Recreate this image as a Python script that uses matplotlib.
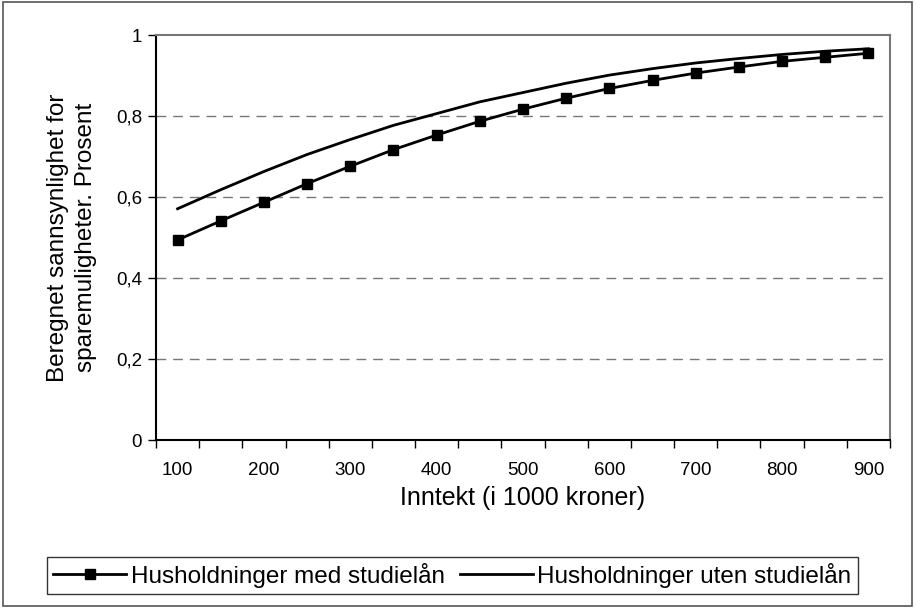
import matplotlib.pyplot as plt
from matplotlib.patches import Rectangle
from matplotlib.ticker import FixedLocator, FuncFormatter
import numpy as np

plt.rcParams['font.family'] = ['Liberation Sans', 'DejaVu Sans']

# Inntekt i 1000 kroner
income = [100, 150, 200, 250, 300, 350, 400, 450, 500,
          550, 600, 650, 700, 750, 800, 850, 900]
med_laan = [0.494, 0.541, 0.587, 0.633, 0.676, 0.717, 0.753, 0.787, 0.817,
            0.844, 0.868, 0.888, 0.906, 0.921, 0.935, 0.945, 0.955]
uten_laan = [0.571, 0.618, 0.663, 0.705, 0.742, 0.777, 0.806, 0.835, 0.858,
             0.881, 0.901, 0.917, 0.931, 0.942, 0.952, 0.960, 0.966]

fig = plt.figure(figsize=(9.15, 6.08), dpi=100)
ax = fig.add_axes([0.1705, 0.2763, 0.8022, 0.6661])

# outer frame around the whole chart
fig.patches.append(Rectangle((0.003, 0.004), 0.994, 0.992, transform=fig.transFigure,
                             fill=False, edgecolor='#555555', linewidth=1.2))

ax.plot(income, med_laan, color='black', linewidth=2, marker='s', markersize=7,
        label='Husholdninger med studielån')
ax.plot(income, uten_laan, color='black', linewidth=2,
        label='Husholdninger uten studielån')

ax.set_xlim(75, 925)
ax.set_ylim(0, 1)

# y axis: ticks every 0,2 with comma decimals, dashed grid
ax.set_yticks(np.arange(0, 1.01, 0.2))
ax.yaxis.set_major_formatter(FuncFormatter(
    lambda v, p: '0' if v == 0 else ('1' if abs(v - 1) < 1e-9 else f'{v:.1f}'.replace('.', ','))))
for yv in [0.2, 0.4, 0.6, 0.8]:
    ax.axhline(yv, color='#777777', linewidth=1, linestyle=(0, (7, 5)), zorder=0)

# x axis: tick marks between categories, labels on every other category
ax.set_xticks(np.arange(100, 901, 100))
ax.xaxis.set_minor_locator(FixedLocator(np.arange(75, 926, 50)))
ax.tick_params(axis='x', which='major', length=0, pad=16, labelsize=13.5)
ax.tick_params(axis='x', which='minor', length=6, width=1, direction='out')
ax.tick_params(axis='y', which='major', length=6, width=1, direction='out', labelsize=13.5, pad=4)

for side in ['left', 'bottom']:
    ax.spines[side].set_linewidth(1.5)
    ax.spines[side].set_color('black')
for side in ['top', 'right']:
    ax.spines[side].set_linewidth(1.5)
    ax.spines[side].set_color('#777777')

ax.set_xlabel('Inntekt (i 1000 kroner)', fontsize=18, labelpad=5)
ax.set_ylabel('Beregnet sannsynlighet for\nsparemuligheter. Prosent', fontsize=17.5,
              labelpad=14, linespacing=1.3)

leg = fig.legend(loc='center', bbox_to_anchor=(0.4945, 0.0535), ncol=2, fontsize=17.5,
                 frameon=True, fancybox=False, edgecolor='black', handlelength=3.0,
                 handletextpad=0.2, columnspacing=0.6, borderpad=0.25)
leg.get_frame().set_linewidth(1)

fig.savefig('out.png', dpi=100)
